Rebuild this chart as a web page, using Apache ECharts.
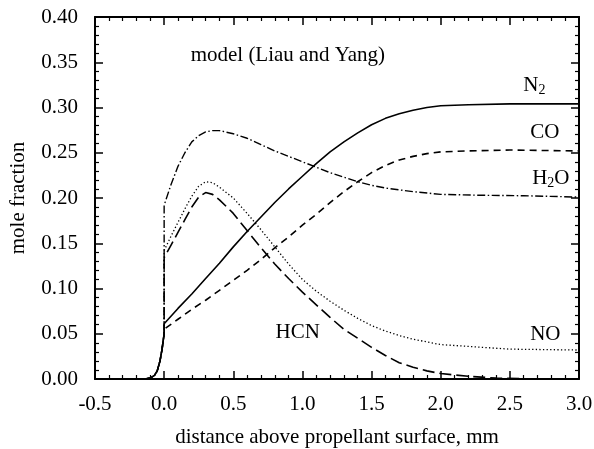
<!DOCTYPE html>
<html>
<head>
<meta charset="utf-8">
<script src="https://cdn.jsdelivr.net/npm/echarts@6/dist/echarts.min.js"></script>
<style>html,body{margin:0;padding:0;background:#fff;}#c{width:594px;height:449px;}</style>
</head>
<body>
<div id="c"></div>
<script>
const xTicks = [-0.5, 0.0, 0.5, 1.0, 1.5, 2.0, 2.5, 3.0];
const yTicks = [0.00, 0.05, 0.10, 0.15, 0.20, 0.25, 0.30, 0.35, 0.40];

const preX = [-0.14, -0.1, -0.07, -0.05, -0.03, -0.015, 0];
const preY = [0, 0.001, 0.004, 0.009, 0.02, 0.033, 0.05];

const n2X = [0, 0.1, 0.2, 0.3, 0.4, 0.5, 0.6, 0.7, 0.8, 0.9, 1.0, 1.1, 1.2, 1.3, 1.4, 1.5, 1.6, 1.7, 1.8, 1.9, 2.0, 2.2, 2.5, 3.0];
const n2Y = [0.061, 0.078, 0.094, 0.111, 0.128, 0.146, 0.163, 0.179, 0.195, 0.210, 0.224, 0.238, 0.251, 0.262, 0.272, 0.281, 0.288, 0.293, 0.297, 0.300, 0.302, 0.303, 0.304, 0.304];

const coX = [0, 0.1, 0.2, 0.3, 0.4, 0.5, 0.6, 0.7, 0.8, 0.9, 1.0, 1.1, 1.2, 1.3, 1.4, 1.5, 1.6, 1.7, 1.8, 1.9, 2.0, 2.2, 2.5, 3.0];
const coY = [0.055, 0.066, 0.077, 0.087, 0.098, 0.109, 0.120, 0.132, 0.145, 0.157, 0.170, 0.182, 0.195, 0.207, 0.218, 0.228, 0.236, 0.242, 0.246, 0.249, 0.251, 0.252, 0.253, 0.252];

const h2oX = [0, 0, 0.05, 0.1, 0.15, 0.2, 0.25, 0.3, 0.35, 0.4, 0.5, 0.6, 0.7, 0.8, 0.9, 1.0, 1.1, 1.2, 1.3, 1.4, 1.5, 1.6, 1.8, 2.0, 2.3, 2.6, 3.0];
const h2oY = [0.05, 0.192, 0.215, 0.235, 0.250, 0.262, 0.269, 0.273, 0.2745, 0.2745, 0.271, 0.266, 0.259, 0.252, 0.246, 0.240, 0.234, 0.228, 0.223, 0.218, 0.214, 0.211, 0.207, 0.204, 0.203, 0.2025, 0.201];

const hcnX = [0, 0, 0.05, 0.1, 0.15, 0.2, 0.25, 0.3, 0.35, 0.4, 0.5, 0.6, 0.7, 0.8, 0.9, 1.0, 1.1, 1.2, 1.3, 1.4, 1.5, 1.6, 1.7, 1.8, 1.9, 2.0, 2.2, 2.4, 2.6, 3.0];
const hcnY = [0.05, 0.134, 0.148, 0.162, 0.176, 0.190, 0.201, 0.206, 0.204, 0.198, 0.183, 0.164, 0.145, 0.127, 0.111, 0.096, 0.082, 0.068, 0.055, 0.045, 0.035, 0.026, 0.018, 0.013, 0.009, 0.006, 0.003, 0.001, 0.0003, 0];

const noX = [0, 0, 0.05, 0.1, 0.15, 0.2, 0.25, 0.3, 0.35, 0.4, 0.5, 0.6, 0.7, 0.8, 0.9, 1.0, 1.1, 1.2, 1.3, 1.4, 1.5, 1.6, 1.7, 1.8, 2.0, 2.2, 2.5, 3.0];
const noY = [0.05, 0.142, 0.158, 0.173, 0.188, 0.202, 0.213, 0.218, 0.217, 0.212, 0.200, 0.183, 0.165, 0.146, 0.127, 0.110, 0.097, 0.086, 0.076, 0.067, 0.059, 0.053, 0.048, 0.044, 0.038, 0.036, 0.033, 0.032];

function pairs(xs, ys) {
  const a = preX.map((x, i) => [x, preY[i]]);
  xs.forEach((x, i) => { if (!(i === 0 && x === 0 && ys[0] === 0.05)) a.push([x, ys[i]]); });
  return a;
}

const FONT = 'Liberation Serif';
const FS = 21;
const chart = echarts.init(document.getElementById('c'), null, {renderer: 'canvas'});

function xAx(pos, showLabel) {
  return {
    type: 'value', position: pos, min: -0.5, max: 3.0, interval: 0.5,
    axisLine: {show: true, onZero: false, lineStyle: {color: '#000', width: 2}},
    axisTick: {show: true, inside: true, length: 8, lineStyle: {color: '#000', width: 1.5}},
    minorTick: {show: true, splitNumber: 5, length: 4, lineStyle: {color: '#000', width: 1.2}},
    splitLine: {show: false},
    axisLabel: {show: showLabel, margin: 15, color: '#000', fontFamily: FONT, fontSize: FS,
      formatter: v => xTicks.some(t => Math.abs(t - v) < 1e-9) ? v.toFixed(1) : ''},
    name: showLabel ? 'distance above propellant surface, mm' : '',
    nameLocation: 'middle', nameGap: 48,
    nameTextStyle: {color: '#000', fontFamily: FONT, fontSize: FS}
  };
}
function yAx(pos, showLabel) {
  return {
    type: 'value', position: pos, min: 0, max: 0.4, interval: 0.05,
    axisLine: {show: true, onZero: false, lineStyle: {color: '#000', width: 2}},
    axisTick: {show: true, inside: true, length: 8, lineStyle: {color: '#000', width: 1.5}},
    minorTick: {show: true, splitNumber: 5, length: 4, lineStyle: {color: '#000', width: 1.2}},
    splitLine: {show: false},
    axisLabel: {show: showLabel, margin: 17, color: '#000', fontFamily: FONT, fontSize: FS,
      formatter: v => yTicks.some(t => Math.abs(t - v) < 1e-9) ? v.toFixed(2) : ''},
    name: showLabel ? 'mole fraction' : '',
    nameLocation: 'middle', nameGap: 66, nameRotate: 90,
    nameTextStyle: {color: '#000', fontFamily: FONT, fontSize: FS}
  };
}

const rich = {
  m: {fontFamily: FONT, fontSize: FS, color: '#000', lineHeight: 24, verticalAlign: 'middle'},
  s: {fontFamily: FONT, fontSize: 14, color: '#000', lineHeight: 10, verticalAlign: 'bottom'}
};
function annot(coord, text) {
  return {coord, value: 0,
    label: {show: true, position: 'right', distance: 0, formatter: text, rich, color: '#000', fontFamily: FONT, fontSize: FS}};
}

function lineSeries(name, data, type, width, extra) {
  const s = {
    name, type: 'line', data, xAxisIndex: 0, yAxisIndex: 0,
    symbol: 'none', smooth: false, clip: true, z: 3,
    lineStyle: {color: '#000', width: width, type: type, cap: 'butt'}
  };
  return Object.assign(s, extra || {});
}

chart.setOption({
  animation: false,
  backgroundColor: '#fff',
  grid: {left: 95, right: 15, top: 17, bottom: 70, containLabel: false, outerBoundsMode: 'none'},
  xAxis: [xAx('bottom', true), xAx('top', false)],
  yAxis: [yAx('left', true), yAx('right', false)],
  series: [
    lineSeries('N2', pairs(n2X, n2Y), 'solid', 1.6, {
      markPoint: {
        symbol: 'circle', symbolSize: 1, silent: true, animation: false,
        itemStyle: {color: 'rgba(0,0,0,0)'},
        data: [
          annot([0.188, 0.358], '{m|model (Liau and Yang)}'),
          annot([2.593, 0.3247], '{m|N}{s|2}'),
          annot([2.643, 0.2728], '{m|CO}'),
          annot([2.658, 0.222], '{m|H}{s|2}{m|O}'),
          annot([2.643, 0.049], '{m|NO}'),
          annot([0.802, 0.051], '{m|HCN}')
        ]
      }
    }),
    lineSeries('CO', pairs(coX, coY), [7, 5], 1.6),
    lineSeries('H2O', pairs(h2oX, h2oY), [8, 2.5, 1.5, 2.5], 1.4),
    lineSeries('HCN', pairs(hcnX, hcnY), [12, 5], 1.6),
    lineSeries('NO', pairs(noX, noY), [1.3, 2.3], 1.3)
  ]
});
</script>
</body>
</html>
